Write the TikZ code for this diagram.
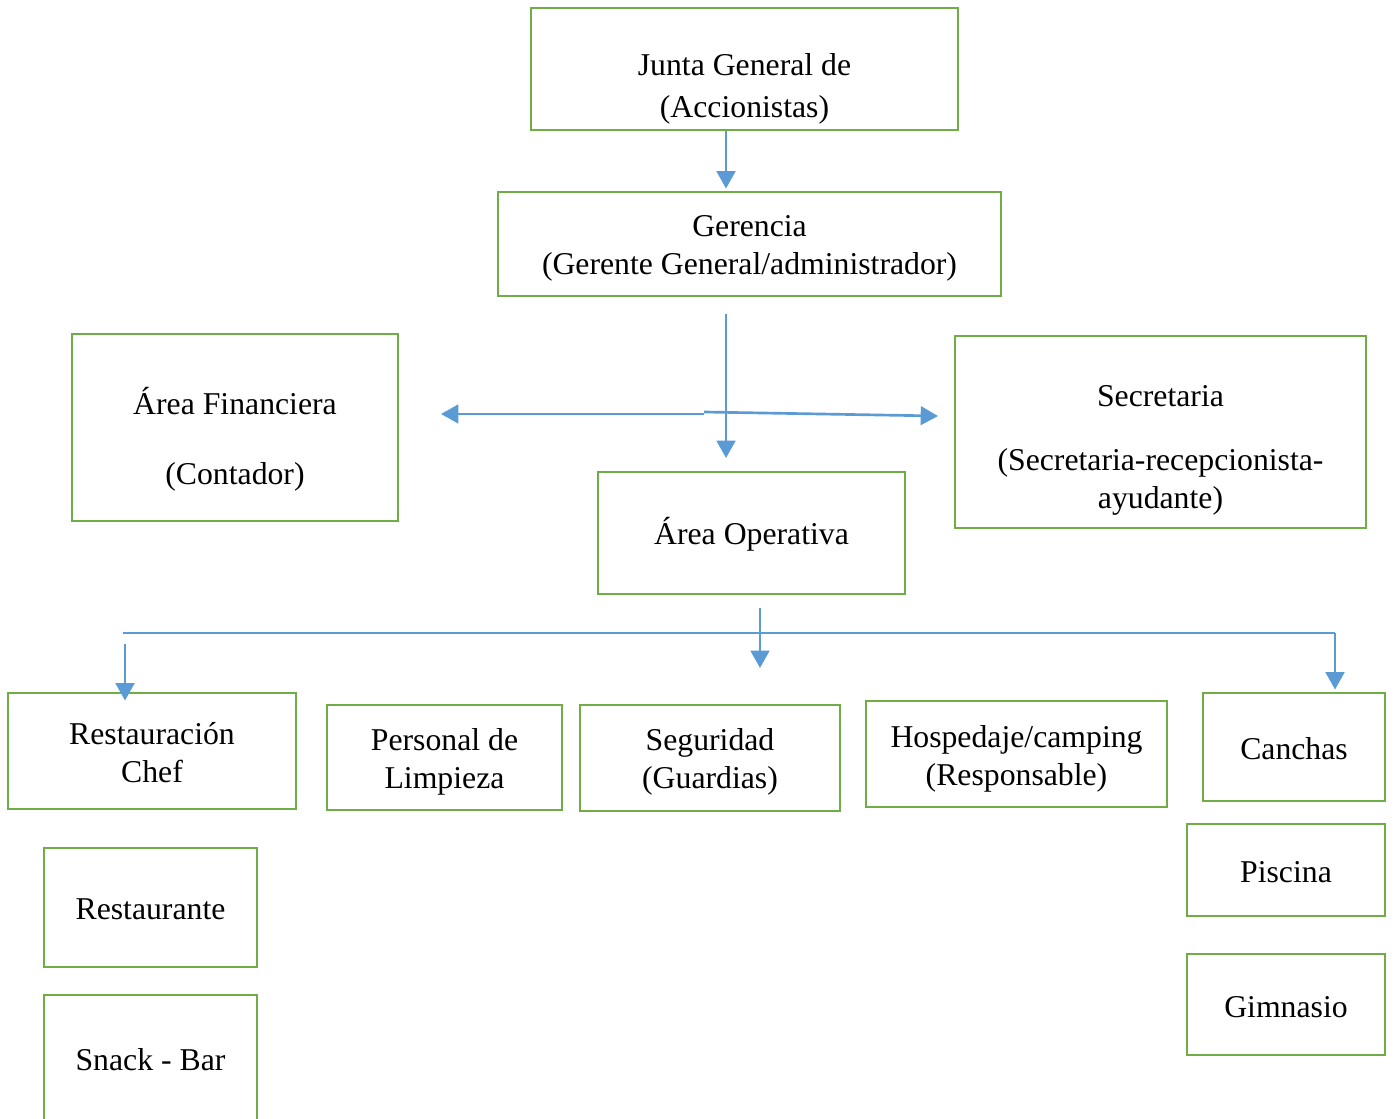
\documentclass[tikz,border=0pt]{standalone}
\usepackage{fontspec}
\setmainfont{Liberation Serif}
\usetikzlibrary{arrows.meta,fit,calc}
\definecolor{boxgreen}{HTML}{70AD47}
\definecolor{arrblue}{HTML}{5B9BD5}
\begin{document}
\begin{tikzpicture}[x=0.75pt,y=-0.75pt,
  box/.style={draw=boxgreen,line width=2.2pt,inner sep=0pt},
  lbl/.style={font=\fontsize{23.8pt}{28.5pt}\selectfont,inner sep=0pt,align=center,text=black},
  arr/.style={draw=arrblue,line width=2pt,-{Triangle[width=14pt,length=13pt]}},
  thin/.style={draw=arrblue,line width=1.1pt}]
\useasboundingbox (0,0) rectangle (1395,1119);
\clip (0,0) rectangle (1395,1119);
% boxes
\node[box,fit={(531,8)(958,130)}] (junta) {};
\node[box,fit={(498,192)(1001,296)}] (ger) {};
\node[box,fit={(72,334)(398,521)}] (fin) {};
\node[box,fit={(955,336)(1366,528)}] (sec) {};
\node[box,fit={(598,472)(905,594)}] (ope) {};
\node[box,fit={(8,693)(296,809)}] (rest) {};
\node[box,fit={(327,705)(562,810)}] (limp) {};
\node[box,fit={(580,705)(840,811)}] (seg) {};
\node[box,fit={(866,701)(1167,807)}] (hosp) {};
\node[box,fit={(1203,693)(1385,801)}] (canch) {};
\node[box,fit={(1187,824)(1385,916)}] (pisc) {};
\node[box,fit={(1187,954)(1385,1055)}] (gim) {};
\node[box,fit={(44,848)(257,967)}] (restte) {};
\node[box,fit={(44,995)(257,1140)}] (snack) {};
% texts
\node[lbl] (tjunta) at (744.5,89) {Junta General de\\[3.5pt](Accionistas)};
\node[lbl] (tger) at (749.5,248) {Gerencia\\(Gerente General/administrador)};
\node[lbl] (tfin1) at (235,401) {Área Financiera};
\node[lbl] (tfin2) at (235,477) {(Contador)};
\node[lbl] (tsec1) at (1160.5,396) {Secretaria};
\node[lbl] (tsec2) at (1160.5,482) {(Secretaria-recepcionista-\\ayudante)};
\node[lbl] (tope) at (751.5,534) {Área Operativa};
\node[lbl] (trest) at (152,753) {Restauración\\Chef};
\node[lbl] (tlimp) at (444.5,762) {Personal de\\Limpieza};
\node[lbl] (tseg) at (710,762) {Seguridad\\(Guardias)};
\node[lbl] (thosp) at (1016.5,759) {Hospedaje/camping\\(Responsable)};
\node[lbl] (tcanch) at (1294,749) {Canchas};
\node[lbl] (tpisc) at (1286,872) {Piscina};
\node[lbl] (tgim) at (1286,1007) {Gimnasio};
\node[lbl] (trestte) at (150.5,909) {Restaurante};
\node[lbl] (tsnack) at (150.5,1060) {Snack - Bar};
% connectors
\coordinate (c1) at (726,0);
\draw[arr] (junta.south -| c1) -- ($(ger.north -| c1)+(0,-2)$);
\coordinate (g1) at (726,314);
\coordinate (g2) at (726,458);
\draw[arr] (g1) -- (g2);
\coordinate (h0) at (704,414);
\coordinate (h1) at (704,412);
\coordinate (hl) at (441,414);
\coordinate (hr) at (938,416);
\draw[arr] (h0) -- (hl);
\draw[arr] (h1) -- (hr);
\coordinate (o1) at (760,608);
\coordinate (o2) at (760,668);
\draw[arr] (o1) -- (o2);
\coordinate (t0) at (123,633);
\coordinate (t1) at (1335,633);
\draw[thin] (t0) -- (t1);
\draw[arr] (t1) -- ($(canch.north -| t1)+(0,-2)$);
\coordinate (r1) at (125,644);
\draw[arr] (r1) -- ($(rest.north -| r1)+(0,9)$);
\end{tikzpicture}
\end{document}
